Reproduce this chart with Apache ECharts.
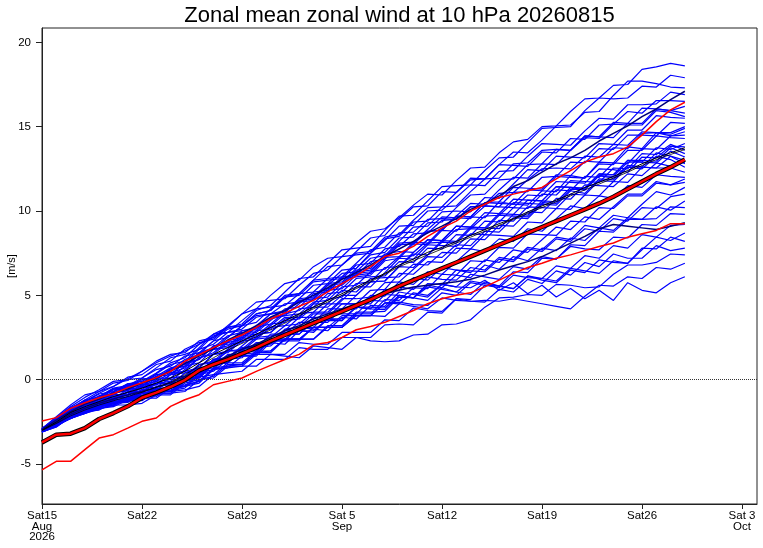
<!DOCTYPE html>
<html><head><meta charset="utf-8">
<script src="https://cdn.jsdelivr.net/npm/echarts@6/dist/echarts.min.js"></script>
<style>html,body{margin:0;padding:0;background:#fff}#c{width:763px;height:548px}</style>
</head><body><div id="c"></div>
<script>
const dayOffsets = [0,1,2,3,4,5,6,7,8,9,10,11,12,13,14,15,16,17,18,19,20,21,22,23,24,25,26,27,28,29,30,31,32,33,34,35,36,37,38,39,40,41,42,43,44,45];
const tickDays = [0,7,14,21,28,35,42,49];
const tickLabels = ['Sat15\nAug\n2026','Sat22','Sat29','Sat 5\nSep','Sat12','Sat19','Sat26','Sat 3\nOct'];
const yTicks = [-5,0,5,10,15,20];

const ensembleMembers = [
[-2.9,-2.3,-1.7,-1.2,-0.7,-0.2,-0.05,0.5,1.0,1.4,1.7,2.1,2.5,3.2,3.9,4.2,5.0,5.7,5.9,6.7,7.2,7.3,8.1,8.8,8.95,9.6,10.35,11.0,10.95,11.8,12.55,12.6,13.45,14.1,14.25,15.0,15.05,15.9,16.65,16.7,17.45,17.5,18.4,18.55,18.75,18.6],
[-2.95,-2.35,-1.65,-1.3,-0.8,-0.4,0.15,0.3,0.9,1.1,1.8,2.2,2.4,3.1,3.3,4.1,4.4,5.2,6.0,6.1,6.9,7.7,7.8,7.9,8.85,9.7,9.75,10.6,11.45,11.5,11.55,12.4,13.15,13.2,14.05,14.9,14.95,15.0,15.95,16.7,16.65,16.7,17.4,17.35,18.05,17.9],
[-3.0,-2.4,-1.8,-1.25,-1.0,-0.5,-0.35,0.1,0.6,0.8,1.4,1.6,2.3,3.0,3.2,3.9,4.1,4.9,5.1,5.9,6.0,6.8,7.5,7.6,8.45,8.6,9.45,10.2,10.25,11.1,11.85,11.9,12.75,13.5,13.45,14.2,15.05,15.1,15.85,15.9,16.85,17.7,17.7,17.55,17.35,17.3],
[-2.9,-2.5,-1.9,-1.4,-1.2,-0.7,-0.25,-0.1,0.4,1.0,1.3,2.1,2.7,3.1,3.9,4.6,4.7,4.8,5.6,6.3,6.5,7.3,7.4,7.5,8.25,9.1,9.15,10.0,10.05,10.8,11.55,11.5,12.35,12.4,13.25,14.0,13.95,13.9,14.75,15.5,15.45,16.3,16.3,16.35,17.05,16.9],
[-3.05,-2.6,-2.2,-1.7,-1.3,-1.2,-0.75,-0.3,-0.1,0.4,0.7,1.5,1.8,2.5,3.2,3.4,4.2,5.0,5.1,5.9,6.7,6.8,7.6,8.4,8.55,9.5,10.25,10.3,11.15,11.1,11.95,11.9,12.75,12.7,12.65,13.5,13.45,14.3,14.25,15.1,15.15,15.9,15.8,16.55,16.55,16.5],
[-3.0,-2.45,-2.1,-1.55,-1.1,-0.9,-0.45,-0.4,0.2,0.7,0.9,1.2,2.0,2.2,2.9,3.1,3.9,4.0,4.8,5.6,5.7,6.5,6.6,7.5,8.35,8.5,9.35,9.4,10.25,10.3,11.15,11.9,11.95,12.8,12.85,13.6,13.65,13.6,14.45,14.4,15.25,15.2,16.1,16.05,15.95,16.2],
[-3.1,-2.65,-2.3,-1.8,-1.65,-1.2,-1.15,-0.7,-0.2,-0.1,0.6,1.3,1.6,2.3,2.5,3.2,3.9,4.1,4.8,4.9,5.7,5.8,6.6,7.4,7.55,8.4,8.45,9.3,9.35,10.2,10.95,11.0,11.85,11.9,12.75,12.8,13.65,13.6,14.45,14.4,14.35,15.2,15.2,16.05,15.95,15.8],
[-2.9,-2.25,-1.6,-1.05,-0.6,-0.1,0.0,0.1,0.7,1.3,1.5,1.8,2.6,2.8,3.0,3.7,3.9,4.0,4.7,4.8,5.6,6.3,6.4,7.2,7.35,8.2,9.05,9.1,9.95,10.0,9.95,10.8,10.75,11.6,12.45,12.4,13.25,13.2,13.15,14.0,13.95,14.8,14.8,15.65,15.55,15.5],
[-3.05,-2.4,-2.0,-1.45,-1.35,-0.8,-0.65,-0.15,0.0,0.6,1.2,1.5,2.3,2.5,3.2,3.9,4.1,4.9,5.0,5.8,5.9,6.0,6.8,6.9,7.75,7.9,8.65,8.7,9.45,9.5,10.25,10.3,10.25,11.1,11.15,12.0,12.05,12.9,12.85,13.7,13.65,14.5,14.5,14.45,15.25,15.2],
[-2.95,-2.55,-1.85,-1.6,-1.15,-1.1,-0.6,-0.6,0.0,0.1,0.8,1.6,1.9,2.6,2.8,2.9,3.6,3.8,4.5,5.2,5.3,6.1,6.2,7.0,7.15,8.0,8.05,8.8,8.85,9.7,9.65,10.5,10.55,11.4,11.35,11.3,12.15,12.1,12.95,12.9,13.75,13.7,14.6,14.65,14.65,15.0],
[-3.0,-2.4,-1.8,-1.5,-1.0,-0.55,-0.45,0.05,0.1,0.6,0.8,1.0,1.8,2.0,2.7,2.8,3.5,4.2,4.3,5.1,5.2,6.0,6.1,6.2,7.05,7.2,8.05,8.0,8.85,8.8,9.65,9.6,10.55,10.4,10.35,11.2,11.15,12.1,11.95,12.9,12.85,13.8,13.7,14.65,14.45,14.7],
[-2.9,-2.2,-1.5,-0.9,-0.7,-0.4,0.05,0.5,1.1,1.5,1.6,2.3,2.5,3.1,3.2,3.8,3.9,4.5,4.6,4.7,5.4,5.6,6.3,6.4,6.55,7.3,7.35,8.1,8.15,8.9,8.95,9.7,9.75,10.5,10.45,10.4,11.25,11.2,12.05,12.0,12.85,12.8,13.7,13.65,14.45,14.5],
[-3.1,-2.7,-2.1,-1.85,-1.4,-0.9,-0.85,-0.35,0.2,0.3,1.0,1.8,2.1,2.8,2.9,3.0,3.7,3.8,3.9,4.6,4.7,5.5,5.6,6.4,7.25,7.3,8.15,8.1,8.95,9.7,9.65,10.5,10.45,10.4,11.25,11.2,12.05,12.0,11.95,12.8,12.75,13.6,13.6,14.45,14.35,14.3],
[-2.95,-2.5,-2.15,-1.9,-1.5,-1.4,-1.0,-0.95,-0.4,-0.3,0.4,0.7,1.5,2.2,2.4,3.1,3.3,4.0,4.7,4.8,5.6,5.7,6.5,6.6,7.45,7.6,7.55,8.3,8.25,9.1,9.05,9.0,9.85,9.8,10.65,10.6,11.45,11.4,11.25,12.1,12.05,12.9,12.9,13.75,13.65,14.0],
[-3.05,-2.45,-1.75,-1.5,-1.0,-0.85,-0.4,-0.3,-0.3,0.3,0.5,0.7,1.5,1.7,2.4,2.5,3.2,3.9,4.1,4.8,4.9,5.7,6.4,6.5,7.25,8.1,8.15,8.9,9.65,9.6,9.55,10.3,10.25,10.2,10.95,10.9,11.75,11.7,11.65,12.5,12.45,12.3,13.2,13.15,13.85,13.8],
[-3.0,-2.6,-1.95,-1.7,-1.25,-1.15,-0.7,-0.7,-0.1,0.0,0.1,0.9,1.1,1.8,2.5,2.6,3.3,3.4,4.2,4.3,5.1,5.2,6.0,6.1,6.15,7.0,6.95,7.8,7.75,8.6,8.55,9.4,9.35,10.2,10.15,11.0,10.95,11.8,11.75,11.7,12.55,12.5,13.4,13.35,13.95,13.6],
[-3.05,-2.75,-2.25,-1.9,-1.8,-1.35,-1.3,-0.8,-0.8,-0.25,-0.1,0.1,0.9,1.0,1.7,2.4,2.5,3.2,3.9,4.0,4.8,4.9,5.7,5.8,6.65,6.7,7.55,8.3,8.25,9.1,9.05,9.9,9.85,10.7,10.65,10.6,11.45,11.4,11.35,12.2,12.15,13.0,13.0,12.95,13.75,13.4],
[-2.9,-2.3,-1.9,-1.3,-1.15,-0.6,-0.55,0.0,0.05,0.65,0.8,1.6,1.8,1.9,2.6,2.7,2.8,3.5,3.6,4.3,4.3,5.0,5.0,5.8,5.85,6.7,7.45,7.4,8.25,8.2,9.05,9.0,8.95,9.8,9.75,10.6,10.55,11.4,11.35,12.2,12.15,13.0,12.9,12.85,13.55,13.2],
[-3.1,-2.6,-2.25,-1.75,-1.65,-1.2,-1.2,-0.75,-0.7,-0.7,0.0,0.2,1.0,1.7,1.8,2.5,2.6,2.7,3.4,3.4,4.2,4.2,5.0,5.8,5.85,6.7,6.65,7.4,8.15,8.1,8.95,8.9,9.75,9.7,9.65,10.5,10.45,11.3,11.25,12.1,11.95,12.7,12.6,13.45,13.25,13.0],
[-2.95,-2.4,-2.05,-1.4,-1.3,-0.75,-0.3,-0.25,0.3,0.4,0.5,1.3,1.5,1.6,2.3,2.4,3.1,3.2,3.3,4.0,4.0,4.8,4.8,4.9,5.75,5.8,6.55,7.3,7.25,8.0,7.95,8.8,8.75,9.6,9.55,10.4,10.35,11.2,11.05,11.9,11.85,12.7,12.6,12.55,13.25,12.8],
[-3.1,-2.7,-2.3,-2.0,-1.7,-1.6,-1.2,-1.2,-0.7,-0.65,-0.5,0.3,0.5,1.2,1.3,2.1,2.2,3.0,3.1,3.9,3.9,4.7,5.5,5.5,6.35,7.2,7.15,8.0,7.95,7.9,8.65,8.6,9.45,9.4,10.25,10.2,10.15,11.0,10.95,11.8,11.75,12.6,12.5,13.25,13.05,12.6],
[-2.95,-2.55,-1.9,-1.65,-1.5,-1.0,-0.95,-0.45,-0.45,0.1,0.2,0.4,1.2,1.3,1.4,2.1,2.2,2.9,3.7,3.7,4.5,4.5,4.5,5.3,5.35,6.3,6.25,7.0,6.95,7.8,7.75,8.6,8.55,8.5,9.35,9.3,10.15,10.1,10.95,10.9,11.75,11.7,12.6,12.55,12.55,12.3],
[-3.1,-2.8,-2.2,-2.0,-1.55,-1.45,-1.0,-1.0,-0.5,-0.5,0.2,0.4,1.2,1.2,1.9,1.9,2.0,2.7,2.7,3.4,3.4,4.2,4.2,5.0,4.95,5.8,5.65,6.4,6.25,7.0,7.75,7.6,8.35,8.2,8.95,8.8,9.55,10.3,10.15,10.9,10.75,11.5,11.4,12.15,12.05,12.0],
[-3.0,-2.45,-2.2,-1.95,-1.65,-1.3,-1.25,-1.2,-0.65,-0.6,-0.4,-0.2,0.6,0.7,1.4,1.5,2.3,2.3,2.3,3.1,3.1,3.1,3.9,3.9,4.75,4.7,5.45,5.4,6.25,6.2,7.05,7.0,7.85,7.8,8.65,8.6,8.55,9.4,9.35,10.2,10.15,10.9,10.9,11.65,11.55,11.7],
[-2.95,-2.35,-1.7,-1.45,-0.95,-0.85,-0.35,-0.3,-0.3,0.3,0.4,0.6,0.7,1.4,1.5,1.6,2.3,2.3,3.1,3.1,3.9,3.9,3.9,4.7,4.65,5.5,5.35,6.1,5.95,5.9,6.65,6.5,7.25,7.1,7.85,7.7,8.45,8.3,9.15,9.0,9.75,9.6,10.4,11.15,10.95,11.4],
[-3.1,-2.7,-2.3,-2.0,-1.75,-1.5,-1.5,-1.4,-0.9,-0.9,-0.2,0.0,0.2,0.9,0.9,1.6,1.6,2.4,2.4,2.4,3.2,3.2,4.0,4.0,4.05,4.9,4.85,5.7,5.65,6.5,6.45,6.4,7.15,7.0,7.75,7.6,8.35,8.2,8.95,8.8,9.55,9.4,10.2,10.15,10.85,11.0],
[-2.9,-2.5,-2.1,-1.8,-1.4,-1.3,-1.25,-0.8,-0.8,-0.8,-0.1,0.1,0.9,1.0,1.8,1.9,2.7,2.7,2.7,3.5,3.5,3.5,4.3,4.2,5.05,5.0,4.85,5.6,5.45,6.2,6.05,6.8,6.55,7.3,7.05,7.8,7.65,8.4,8.25,9.0,8.85,9.6,9.5,10.25,10.05,10.6],
[-3.05,-2.65,-2.05,-1.8,-1.7,-1.2,-1.2,-0.75,-0.7,-0.7,-0.6,-0.4,0.3,0.4,0.5,1.2,1.2,1.2,1.9,1.8,1.8,2.5,2.5,2.5,3.25,3.3,3.25,4.0,3.95,4.8,4.75,5.6,5.55,6.4,6.35,7.2,7.15,8.0,7.95,8.8,8.75,9.5,9.5,9.55,10.25,10.2],
[-2.9,-2.4,-1.75,-1.2,-1.05,-0.55,-0.55,-0.5,0.1,0.1,0.2,0.9,1.0,1.7,1.7,1.7,2.4,2.4,3.1,3.0,2.9,3.7,3.6,4.4,4.35,5.2,5.05,4.9,5.65,5.5,6.25,6.1,5.95,6.7,6.55,7.3,7.15,7.9,7.75,7.7,8.45,8.4,9.2,9.15,9.85,9.8],
[-3.1,-2.75,-2.3,-1.9,-1.5,-1.4,-1.35,-0.9,-0.9,-0.4,-0.3,-0.1,0.7,0.8,0.9,1.6,1.7,2.4,2.4,3.1,3.1,3.8,3.8,3.8,4.55,4.6,4.45,4.4,5.15,5.0,5.75,5.6,5.45,6.2,6.05,6.0,6.75,6.6,7.35,7.2,7.95,7.8,8.6,8.45,9.15,9.2],
[-3.0,-2.6,-2.3,-1.75,-1.65,-1.55,-1.1,-1.1,-1.1,-0.5,-0.4,0.4,0.6,1.4,1.4,1.4,2.2,2.1,2.9,2.8,3.6,3.5,4.3,4.2,4.15,5.0,4.85,4.7,5.45,5.2,5.05,5.8,5.55,5.4,6.15,5.9,5.75,6.5,6.35,7.1,6.95,6.9,7.8,7.75,8.45,8.2],
[-3.05,-2.7,-2.1,-1.9,-1.4,-1.3,-1.3,-0.8,-0.8,-0.8,-0.7,0.0,0.1,0.8,0.8,0.8,1.5,1.4,1.3,2.0,1.9,1.8,2.5,2.3,2.25,2.3,2.65,2.7,3.25,3.3,3.55,4.3,4.85,4.9,5.05,5.0,5.65,5.6,5.45,5.5,6.25,6.8,6.8,6.95,7.45,7.4],
[-2.95,-2.55,-2.2,-1.65,-1.55,-1.05,-1.05,-0.6,-0.6,-0.1,0.0,0.2,1.0,1.0,1.7,1.7,2.4,2.4,2.4,3.1,3.1,3.1,3.8,3.8,3.75,4.5,4.35,4.2,4.85,4.7,4.65,4.7,4.65,4.8,4.65,4.5,4.35,4.2,4.95,5.6,5.55,6.1,6.0,6.65,6.55,6.9],
[-3.1,-2.75,-2.25,-1.85,-1.6,-1.3,-1.25,-1.25,-0.7,-0.7,-0.05,0.15,0.3,1.0,1.0,1.7,1.7,2.4,2.4,2.4,3.1,3.1,3.8,3.8,4.55,4.5,5.15,5.0,5.65,5.5,5.45,5.9,5.3,5.75,5.1,5.6,4.9,5.4,4.8,5.3,4.7,5.75,5.3,5.15,5.75,6.1],
[-3.0,-2.4,-2.0,-1.45,-1.3,-1.2,-0.75,-0.75,-0.25,-0.2,-0.1,0.7,0.8,1.5,1.5,2.2,2.2,2.9,2.9,2.9,3.6,3.6,4.3,4.3,4.25,5.0,4.85,5.5,5.35,5.2,5.85,5.7,5.55,5.4,6.15,6.0,5.85,6.6,6.45,6.3,7.05,6.9,7.7,8.45,8.25,8.7],
[-3.1,-2.65,-2.3,-1.95,-1.6,-1.5,-1.05,-1.05,-1.0,-0.45,-0.35,-0.1,0.65,0.7,0.8,1.5,1.5,1.5,2.2,2.1,2.1,2.8,2.8,2.8,3.55,3.5,4.25,4.1,4.05,4.8,4.65,4.6,5.35,5.2,5.95,5.7,6.45,6.2,6.95,6.7,7.45,7.2,7.2,7.95,7.65,7.8],
[-3.0,-2.45,-1.85,-1.3,-0.85,-0.7,-0.25,-0.2,0.35,0.9,1.1,1.9,2.7,2.8,3.5,4.2,4.3,4.4,5.1,5.2,6.0,6.1,6.9,7.7,7.85,8.7,8.75,9.5,9.55,9.5,10.25,10.3,11.05,11.1,11.85,12.5,12.55,12.5,13.25,13.2,13.95,13.9,14.7,14.65,14.55,14.9],
[-2.9,-2.45,-2.05,-1.5,-1.4,-0.9,-0.9,-0.4,-0.3,0.3,1.0,1.2,2.0,2.1,2.2,2.9,3.0,3.7,3.7,4.5,4.5,5.3,5.2,6.0,6.05,6.1,6.85,6.8,7.55,7.5,8.35,8.3,9.15,9.1,9.95,9.9,10.75,10.7,11.55,11.5,11.45,12.2,12.1,12.85,12.65,12.9],
[-3.1,-2.8,-2.2,-2.0,-1.55,-1.5,-1.05,-1.1,-0.55,-0.5,0.2,0.4,1.2,1.3,2.0,2.7,2.8,3.6,3.7,4.5,5.3,5.4,6.2,6.3,7.15,8.0,8.05,8.8,8.85,9.7,10.45,10.4,11.25,12.0,11.95,12.8,12.75,13.6,14.35,14.3,15.15,15.1,15.1,15.95,15.85,15.6],
[-3.0,-2.6,-2.25,-1.75,-1.6,-1.1,-1.1,-0.6,-0.6,-0.5,0.1,0.3,1.1,1.2,1.9,2.0,2.1,2.8,2.9,3.7,3.7,4.5,4.5,4.5,5.35,5.3,6.05,5.9,6.65,6.5,6.35,7.1,6.95,7.7,7.55,8.3,9.05,8.9,9.65,9.5,10.25,11.0,11.0,11.75,11.55,11.9]
];

const controlLow = [-3.0,-2.55,-2.05,-1.7,-1.4,-1.15,-0.9,-0.7,-0.45,-0.2,0.2,0.6,1.0,1.4,1.8,2.1,2.5,2.9,3.2,3.6,3.9,4.2,4.5,4.8,5.1,5.3,5.5,5.6,5.7,5.8,5.95,6.2,6.5,6.75,7.0,7.3,7.7,8.1,8.5,8.95,9.2,9.1,9.0,8.9,9.1,9.3];
const controlHigh = [-2.95,-2.4,-1.9,-1.45,-1.15,-0.8,-0.55,-0.2,0.1,0.5,0.95,1.4,1.85,2.35,2.75,3.2,3.7,4.1,4.6,5.0,5.45,5.95,6.35,6.8,7.3,7.75,8.2,8.7,9.1,9.55,10.1,10.45,10.9,11.45,11.8,12.3,12.8,13.15,13.6,14.15,14.6,15.05,15.6,16.05,16.6,17.1];

const ensMean = [-3.0,-2.5,-1.95,-1.6,-1.3,-1.0,-0.75,-0.5,-0.2,0.1,0.5,1.0,1.5,1.9,2.3,2.7,3.1,3.5,3.9,4.3,4.7,5.1,5.5,5.9,6.3,6.8,7.15,7.55,7.85,8.2,8.55,8.9,9.25,9.55,9.95,10.3,10.65,11.0,11.4,11.7,12.05,12.4,12.8,13.15,13.45,13.75];
const ensMedian = [-3.0,-2.6,-2.15,-1.8,-1.5,-1.25,-1.0,-0.75,-0.45,-0.15,0.3,0.8,1.3,1.75,2.15,2.55,2.95,3.35,3.8,4.2,4.6,5.0,5.4,5.8,6.25,6.7,7.05,7.4,7.75,8.1,8.45,8.8,9.15,9.5,9.85,10.2,10.55,10.9,11.25,11.6,11.95,12.3,12.7,13.05,13.35,13.65];

const climMean = [-3.72,-3.26,-3.2,-2.87,-2.33,-1.98,-1.58,-1.07,-0.77,-0.42,-0.02,0.55,0.9,1.2,1.55,1.9,2.3,2.65,3.0,3.35,3.7,4.05,4.4,4.75,5.15,5.55,5.9,6.25,6.6,6.95,7.3,7.65,8.0,8.35,8.7,9.05,9.4,9.75,10.1,10.45,10.85,11.3,11.75,12.2,12.6,13.05];
const climUpper = [-2.45,-2.25,-1.7,-1.37,-1.07,-0.83,-0.47,-0.18,0.12,0.49,1.09,1.48,1.9,2.3,2.65,3.1,3.6,3.95,4.35,4.7,5.2,5.7,6.15,6.7,7.3,7.5,7.9,8.5,9.0,9.4,10.0,10.4,10.8,11.0,11.2,11.4,11.9,12.4,12.9,13.2,13.4,13.8,14.5,15.3,16.0,16.45];
const climLower = [-5.35,-4.84,-4.84,-4.15,-3.46,-3.26,-2.87,-2.47,-2.27,-1.58,-1.19,-0.89,-0.3,-0.1,0.1,0.49,0.85,1.2,1.5,2.07,2.2,2.5,2.96,3.15,3.4,3.75,4.1,4.5,4.8,5.0,5.15,5.5,5.9,6.3,6.65,6.9,7.2,7.4,7.65,7.9,8.1,8.45,8.65,8.85,9.25,9.25];

const FONT = '"Liberation Sans", Arial, Helvetica, sans-serif';
function pairs(vals){ return vals.map((v,i)=>[dayOffsets[i], v]); }
function lineSeries(vals, color, width, z, extra){
  return Object.assign({
    type:'line', data: pairs(vals), showSymbol:false, symbol:'none', silent:true,
    animation:false, z: z, lineStyle:{color:color, width:width}
  }, extra || {});
}
const tickMap = {};
tickDays.forEach((d,i)=>{ tickMap[d] = tickLabels[i]; });

const series = [];
ensembleMembers.forEach((m,i)=>{
  const s = lineSeries(m, '#0000ff', 1.2, 2);
  if (i === 0) {
    s.markLine = {
      symbol:['none','none'], silent:true, animation:false, label:{show:false},
      lineStyle:{color:'#333', type:[1,1], width:1},
      data:[{yAxis:0}]
    };
  }
  series.push(s);
});
series.push(lineSeries(controlLow, '#00007a', 1.5, 3));
series.push(lineSeries(controlHigh, '#00007a', 1.5, 3));
series.push(lineSeries(ensMedian, '#000', 0.8, 4));
series.push(lineSeries(ensMean, '#000', 1, 4));
series.push(lineSeries(climUpper, '#ff0000', 1.5, 5));
series.push(lineSeries(climLower, '#ff0000', 1.5, 5));
series.push(lineSeries(climMean, '#000', 4.5, 6));
series.push(lineSeries(climMean, '#ff0000', 2.5, 7));

const chart = echarts.init(document.getElementById('c'), null, {renderer:'canvas'});
chart.setOption({
  animation:false,
  backgroundColor:'#fff',
  title:{
    text:'Zonal mean zonal wind at 10 hPa 20260815',
    left:399.5, textAlign:'center', top:5, padding:0,
    textStyle:{fontFamily:FONT, fontSize:22, fontWeight:'normal', color:'#000'}
  },
  grid:{left:42, right:6, top:28, bottom:44, show:true, borderColor:'#222', borderWidth:1,
        backgroundColor:'transparent', containLabel:false, outerBoundsMode:'none'},
  xAxis:{
    type:'value', min:0, max:50.05,
    axisLine:{show:true, onZero:false, lineStyle:{color:'#222', width:1}},
    axisTick:{show:true, customValues:tickDays, length:5, lineStyle:{color:'#222'}},
    axisLabel:{customValues:tickDays, formatter:(v)=> tickMap[Math.round(v)] || '',
      fontFamily:FONT, fontSize:11.5, lineHeight:10.5, margin:7, color:'#000'},
    splitLine:{show:false}
  },
  yAxis:{
    type:'value', min:-7.37, max:20.85,
    name:'[m/s]', nameLocation:'middle', nameGap:25, nameRotate:90, nameMoveOverlap:false,
    nameTextStyle:{fontFamily:FONT, fontSize:11, color:'#000'},
    axisLine:{show:true, onZero:false, lineStyle:{color:'#222', width:1}},
    axisTick:{show:true, customValues:yTicks, length:6, lineStyle:{color:'#222'}},
    axisLabel:{customValues:yTicks, fontFamily:FONT, fontSize:11.5, margin:11, color:'#000'},
    splitLine:{show:false}
  },
  series: series
});
</script>
</body></html>
